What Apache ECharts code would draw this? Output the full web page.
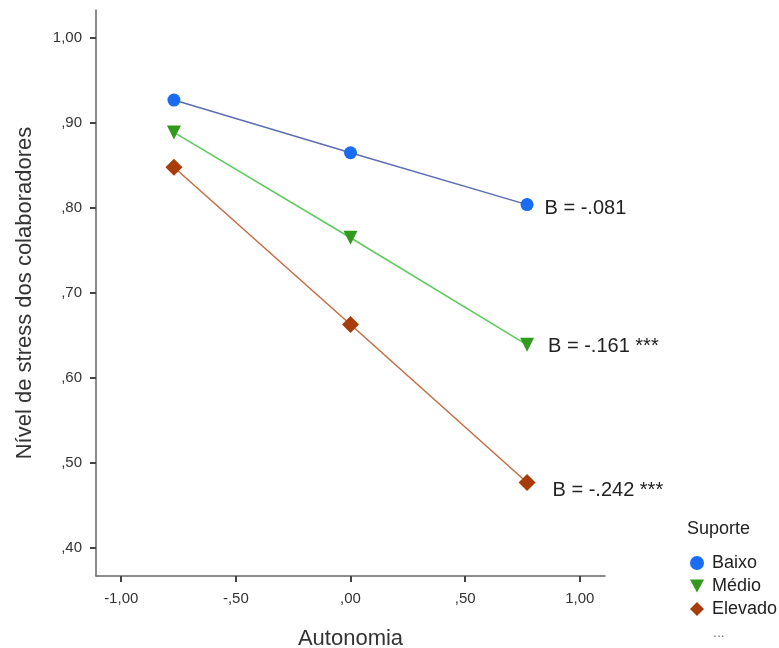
<!DOCTYPE html>
<html>
<head>
<meta charset="utf-8">
<script src="https://cdn.jsdelivr.net/npm/echarts@6/dist/echarts.min.js"></script>
<style>
  html, body { margin: 0; padding: 0; background: #fff; }
  #chart { width: 779px; height: 648px; }
</style>
</head>
<body>
<div id="chart"></div>
<script>
// Simple-slopes plot: stress level vs. autonomy at three levels of support
const autonomia = [-0.77, 0, 0.77];
const groups = ['Baixo', 'Médio', 'Elevado'];
const baixo = [0.927, 0.865, 0.804];
const medio = [0.889, 0.765, 0.639];
const elevado = [0.848, 0.663, 0.477];
const slopes = ['-.081', '-.161', '-.242'];
const signif = ['', '***', '***'];
const xTicks = [-1, -0.5, 0, 0.5, 1];
const yTicks = [0.4, 0.5, 0.6, 0.7, 0.8, 0.9, 1.0];

const FONT = '"Liberation Sans", Arial, sans-serif';

// SPSS-style number format: comma decimal, no leading zero
function fmt(v) {
  const s = Math.abs(v).toFixed(2).replace('.', ',');
  const t = s.startsWith('0') ? s.slice(1) : s;
  return (v < 0 ? '-' : '') + t;
}

const markerColors = ['#1a6cf2', '#2f9a1c', '#a83c0b'];
const lineColors = ['#5c6db3', '#5fca5c', '#c46c44'];
const symbols = ['circle', 'triangle', 'diamond'];
const symbolSizes = [13, 14, 17];
const symbolRotate = [0, 180, 0];
const labelOffsets = [[6, 4], [9, 2], [12, 8]];
const legendIcons = [
  'circle',
  'path://M0,0L12,0L6,11Z',
  'path://M6,0L12,6L6,12L0,6Z'
];
const values = [baixo, medio, elevado];

const series = groups.map((g, i) => ({
  name: g,
  type: 'line',
  data: autonomia.map((x, j) => [x, values[i][j]]),
  symbol: symbols[i],
  symbolSize: symbolSizes[i],
  symbolRotate: symbolRotate[i],
  showAllSymbol: true,
  itemStyle: { color: markerColors[i] },
  lineStyle: { color: lineColors[i], width: 1.5 },
  emphasis: { disabled: true },
  z: 3 + i,
  label: {
    show: true,
    position: 'right',
    offset: labelOffsets[i],
    formatter: (p) => p.dataIndex === autonomia.length - 1
      ? 'B = ' + slopes[i] + (signif[i] ? ' ' + signif[i] : '')
      : '',
    fontFamily: FONT,
    fontSize: 20,
    color: '#222'
  }
}));

const chart = echarts.init(document.getElementById('chart'), null, { renderer: 'canvas' });
chart.setOption({
  animation: false,
  backgroundColor: '#ffffff',
  grid: { left: 96, right: 174, top: 10, bottom: 72, containLabel: false, outerBoundsMode: 'none' },
  xAxis: {
    type: 'value',
    min: -1.11,
    max: 1.11,
    name: 'Autonomia',
    nameLocation: 'middle',
    nameGap: 52,
    nameTextStyle: { fontFamily: FONT, fontSize: 22, color: '#333' },
    axisLine: { show: true, onZero: false, lineStyle: { color: '#666', width: 1.5 } },
    axisTick: { show: true, length: 6, customValues: xTicks, lineStyle: { color: '#444', width: 2 } },
    axisLabel: { customValues: xTicks, formatter: fmt, fontFamily: FONT, fontSize: 15, color: '#333', margin: 15 },
    splitLine: { show: false }
  },
  yAxis: {
    type: 'value',
    min: 0.367,
    max: 1.033,
    name: 'Nível de stress dos colaboradores',
    nameLocation: 'middle',
    nameGap: 60,
    nameRotate: 90,
    nameTextStyle: { fontFamily: FONT, fontSize: 22, color: '#333' },
    axisLine: { show: true, onZero: false, lineStyle: { color: '#666', width: 1.5 } },
    axisTick: { show: true, length: 6, customValues: yTicks, lineStyle: { color: '#444', width: 2 } },
    axisLabel: { customValues: yTicks, formatter: fmt, fontFamily: FONT, fontSize: 15, color: '#333', margin: 14, padding: [10, 0, 0, 0] },
    splitLine: { show: false }
  },
  legend: {
    orient: 'vertical',
    left: 685,
    top: 549,
    itemWidth: 14,
    itemHeight: 14,
    itemGap: 5,
    selectedMode: false,
    textStyle: { fontFamily: FONT, fontSize: 18, color: '#222', padding: [0, 0, 0, 3] },
    data: groups.map((g, i) => ({ name: g, icon: legendIcons[i], itemStyle: { color: markerColors[i] } }))
  },
  graphic: [
    {
      type: 'text',
      left: 687,
      top: 520,
      style: { text: 'Suporte', fontFamily: FONT, fontSize: 18, fill: '#222' }
    },
    {
      type: 'text',
      left: 713,
      top: 626,
      style: { text: '...', fontFamily: FONT, fontSize: 14, fill: '#777' }
    }
  ],
  series: series
});
</script>
</body>
</html>
